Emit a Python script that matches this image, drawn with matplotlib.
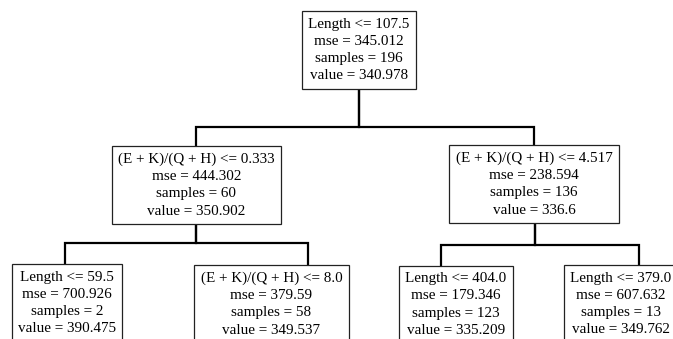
import matplotlib.pyplot as plt

# node data (root, L, R, LL, LR, RL, RR)
features = ["Length", "(E + K)/(Q + H)", "(E + K)/(Q + H)", "Length",
            "(E + K)/(Q + H)", "Length", "Length"]
thresholds = [107.5, 0.333, 4.517, 59.5, 8.0, 404.0, 379.0]
mse = [345.012, 444.302, 238.594, 700.926, 379.59, 179.346, 607.632]
samples = [196, 60, 136, 2, 58, 123, 13]
values = [340.978, 350.902, 336.6, 390.475, 349.537, 335.209, 349.762]
children = {0: [1, 2], 1: [3, 4], 2: [5, 6]}

# layout in pixels (y down)
node_xy = [(359, 50), (196.5, 185), (534, 184), (67, 303),
           (271.5, 304), (456, 304.5), (621, 304)]
stem_x = {0: 359, 1: 196, 2: 535}
bar_y = {0: 127, 1: 243, 2: 245}
drop_x = {1: 196, 2: 534, 3: 65, 4: 308, 5: 441, 6: 639}

plt.rcParams['font.family'] = ['Liberation Serif', 'DejaVu Serif']

fig = plt.figure(figsize=(6.73, 3.39), dpi=100)
ax = fig.add_axes([0, 0, 1, 1])
ax.set_xlim(0, 673)
ax.set_ylim(339, 0)
ax.axis("off")

# connectors
for p, kids in children.items():
    sx = stem_x[p]
    py = node_xy[p][1]
    by = bar_y[p]
    for c in kids:
        dx = drop_x[c]
        cy = node_xy[c][1]
        ax.plot([sx, sx, dx, dx], [py, by, by, cy], color="black",
                lw=1.6, solid_joinstyle="miter", zorder=1)

# boxes
for i, (x, y) in enumerate(node_xy):
    label = "%s <= %s\nmse = %s\nsamples = %d\nvalue = %s" % (
        features[i], thresholds[i], mse[i], samples[i], values[i])
    ax.text(x, y, label, ha="center", va="center", fontsize=10.9,
            linespacing=1.42, color="black", zorder=3,
            bbox=dict(boxstyle="square,pad=0.42", fc="white",
                      ec="#222222", lw=0.9))

fig.savefig("out.png", dpi=100)
